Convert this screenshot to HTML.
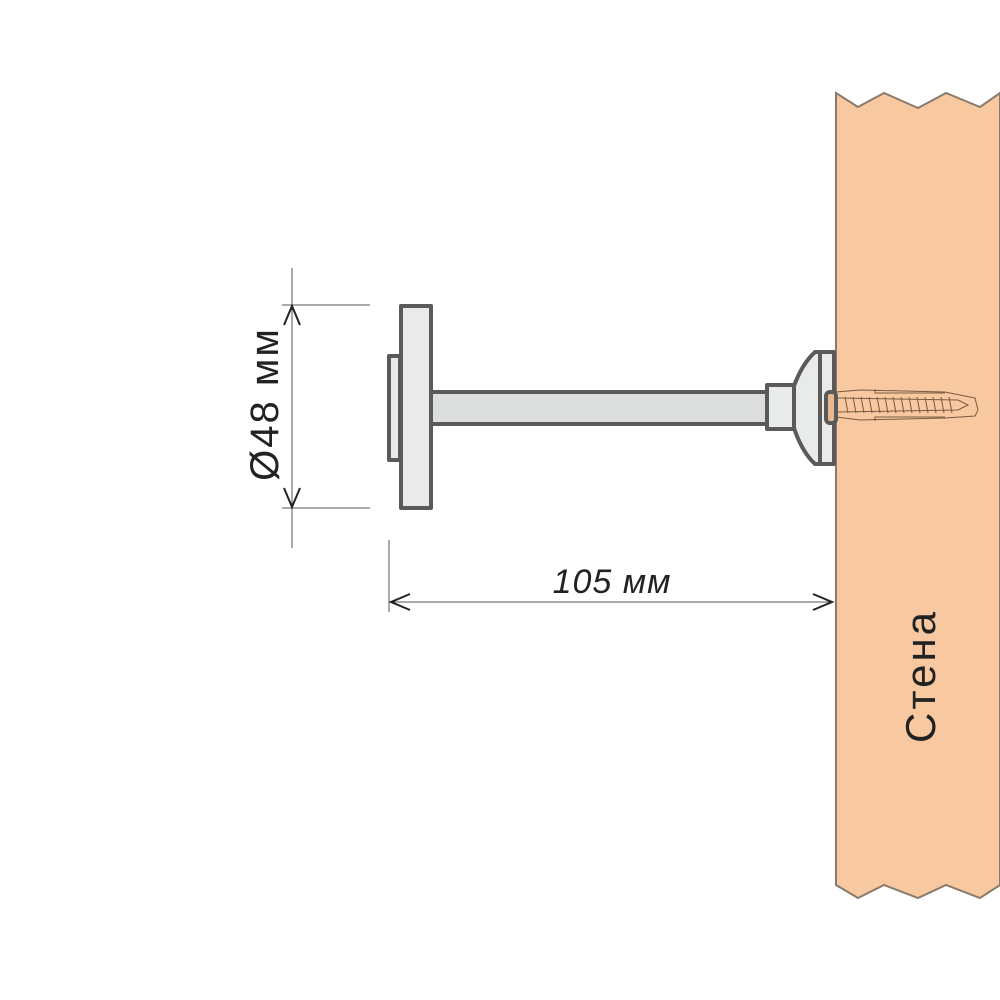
<!DOCTYPE html>
<html><head><meta charset="utf-8"><style>html,body{margin:0;padding:0;background:#fff;}svg{display:block}</style></head><body>
<svg width="1000" height="1000" viewBox="0 0 1000 1000" xmlns="http://www.w3.org/2000/svg">
<polygon points="836,93 858,107 884,93 918,108 946,93 980,107 1000,93 1000,885 980,898 946,885 918,898 884,885 858,898 836,885" fill="#F8C9A0" stroke="#8a7a6a" stroke-width="2"/>
<g fill="none" stroke="#7a5a40" stroke-width="1">
<path d="M836,392 L860,390 L945,392 L975,398 L978,410 L975,416 L945,418 L860,420 L836,417"/>
<path d="M838,398 L958,400 L968,405 L958,410 L838,412"/>
<path d="M875,389 L875,393 L945,393 M875,421 L875,417 L945,417"/>
<path d="M845,397 l3,16 M853,397 l3,16 M861,397 l3,16 M869,397 l3,16 M877,397 l3,16 M885,397 l3,16 M893,397 l3,16 M901,397 l3,16 M909,397 l3,16 M917,397 l3,16 M925,397 l3,16 M933,397 l3,16 M941,397 l3,16 M949,397 l3,16"/>
</g>
<g stroke="#5a5a5a" stroke-width="4" fill="#e9ebea" stroke-linejoin="round">
<rect x="389" y="356" width="11" height="104"/>
<rect x="401" y="306" width="30" height="202"/>
<rect x="431" y="392" width="336" height="32" fill="#dcdedd"/>
<rect x="767" y="385" width="27" height="44"/>
<path d="M794,386 Q802,364 815,352 L834,352 L834,464 L815,464 Q802,452 794,428 Z"/>
<path d="M820,352 L820,464"/>
<rect x="826" y="392" width="10" height="31" rx="4" fill="#eab790"/>
</g>
<g stroke="#555" stroke-width="1" fill="none">
<line x1="292" y1="268" x2="292" y2="548"/>
<line x1="282" y1="305" x2="370" y2="305"/>
<line x1="282" y1="508" x2="370" y2="508"/>
<line x1="389" y1="540" x2="389" y2="612"/>
<line x1="390" y1="602" x2="833" y2="602"/>
</g>
<g stroke="#222" stroke-width="2" fill="none">
<path d="M284,325 L292,306 L300,325"/>
<path d="M284,488 L292,507 L300,488"/>
<path d="M410,594 L391,602 L410,610"/>
<path d="M813,594 L832,602 L813,610"/>
</g>
<text transform="translate(278,404) rotate(-90)" text-anchor="middle" font-family="Liberation Sans, DejaVu Sans, sans-serif" font-size="40" letter-spacing="2" fill="#222">Ø48 мм</text>
<text x="612" y="593" text-anchor="middle" font-family="Liberation Sans, DejaVu Sans, sans-serif" font-style="italic" font-size="34" letter-spacing="1" fill="#222">105  мм</text>
<text transform="translate(935,676) rotate(-90)" text-anchor="middle" font-family="Liberation Sans, DejaVu Sans, sans-serif" font-size="42" letter-spacing="3" fill="#222">Стена</text>
</svg>
</body></html>
